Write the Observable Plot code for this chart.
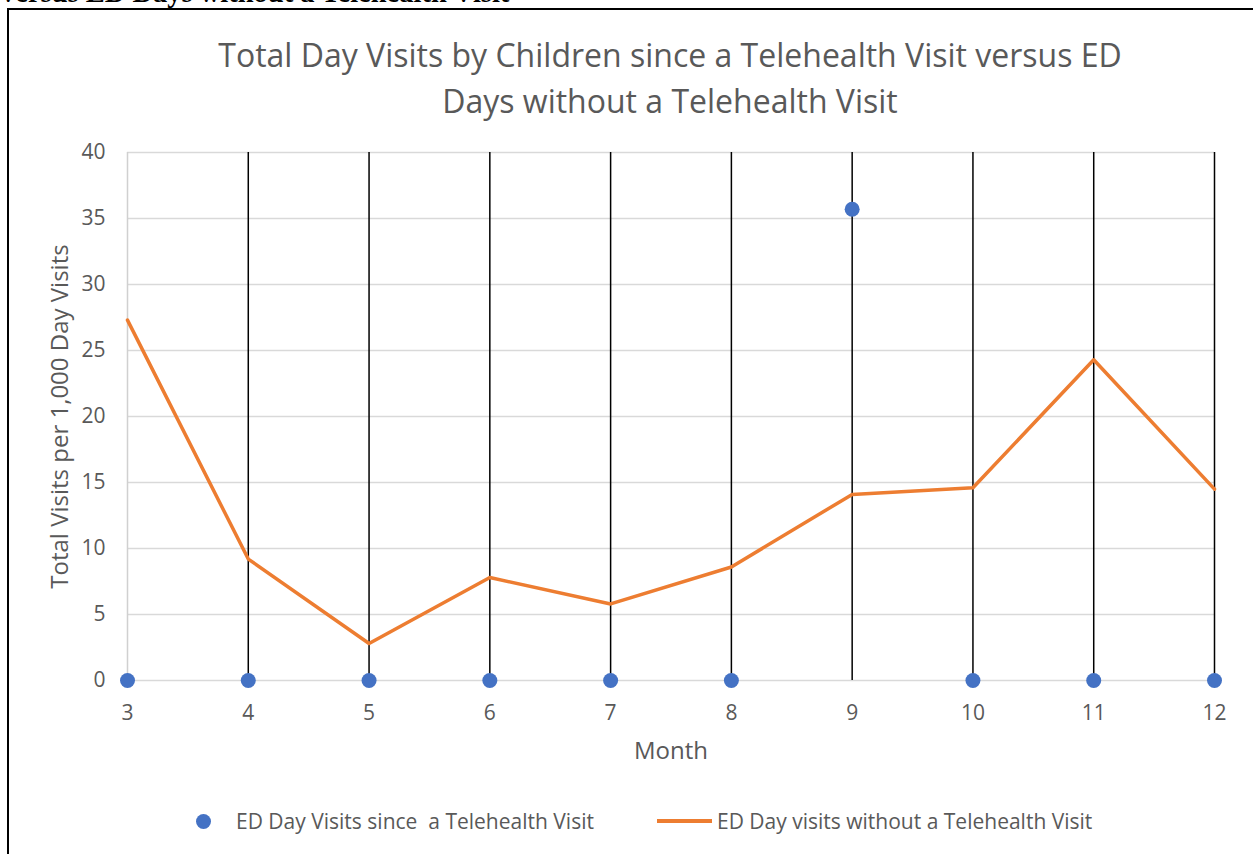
<!DOCTYPE html>
<html>
<head>
<meta charset="utf-8">
<script src="https://cdn.jsdelivr.net/npm/d3@7"></script>
<script src="https://cdn.jsdelivr.net/npm/@observablehq/plot@0.6"></script>
<style>
  html, body { margin: 0; padding: 0; background: #fff; }
  body { width: 1253px; height: 854px; position: relative; overflow: hidden; font-family: "Open Sans", sans-serif; }
  #heading { position: absolute; left: 1px; top: -22px; font-family: "Liberation Serif", "Times New Roman", serif; font-weight: bold; font-size: 28.5px; line-height: 30px; color: #000; white-space: nowrap; }
  #frame { position: absolute; left: 7px; top: 8px; width: 1260px; height: 860px; border: 2px solid #000; box-sizing: border-box; }
  #chart { position: absolute; left: 0; top: 0; }
  #chart svg text { font-family: "Open Sans", sans-serif; }
  #title { position: absolute; left: 0; width: 1340px; top: 32px; text-align: center; font-size: 32px; line-height: 46px; color: #595959; }
  #legend { position: absolute; top: 807px; left: 0; width: 1253px; font-size: 21px; color: #595959; }
  .item { position: absolute; top: 0; display: flex; align-items: center; height: 28px; white-space: pre; }
  .dot { width: 15px; height: 15px; border-radius: 50%; background: #4472C4; margin-right: 25px; }
  .dash { width: 55px; height: 3.5px; background: #ED7D31; margin-right: 5px; }
</style>
</head>
<body>
<div id="heading">versus ED Days without a Telehealth Visit</div>
<div id="frame"></div>
<div id="chart"></div>
<div id="title">Total Day Visits by Children since a Telehealth Visit versus ED<br>Days without a Telehealth Visit</div>
<div id="legend">
  <div class="item" style="left:196px"><span class="dot"></span>ED Day Visits since  a Telehealth Visit</div>
  <div class="item" style="left:657px"><span class="dash"></span>ED Day visits without a Telehealth Visit</div>
</div>
<script>
// Months on the horizontal axis
const months = [3, 4, 5, 6, 7, 8, 9, 10, 11, 12];
// ED day visits per 1,000 day visits since a telehealth visit
const sinceTelehealth = [0, 0, 0, 0, 0, 0, 35.7, 0, 0, 0];
// ED day visits per 1,000 day visits without a telehealth visit
const withoutTelehealth = [27.3, 9.2, 2.8, 7.8, 5.8, 8.6, 14.1, 14.6, 24.3, 14.5];
// Months carrying the full-height black range bars
const barMonths = [4, 5, 6, 7, 8, 9, 10, 11, 12];
// Value axis ticks
const yTicks = [0, 5, 10, 15, 20, 25, 30, 35, 40];

const yMin = yTicks[0], yMax = yTicks[yTicks.length - 1];

const rows = months.map((m, i) => ({month: m, since: sinceTelehealth[i], without: withoutTelehealth[i]}));

const chart = Plot.plot({
  width: 1253,
  height: 854,
  marginLeft: 127,
  marginRight: 39,
  marginTop: 152,
  marginBottom: 174,
  style: {fontFamily: "'Open Sans', sans-serif", fontSize: "21px", color: "#595959", background: "transparent", overflow: "visible"},
  x: {domain: [months[0], months[months.length - 1]]},
  y: {domain: [yMin, yMax]},
  marks: [
    Plot.ruleY(yTicks, {y: d => d, stroke: "#d9d9d9", strokeWidth: 1.5}),
    Plot.ruleX([months[0]], {x: d => d, y1: yMin, y2: yMax, stroke: "#d0d0d0", strokeWidth: 1.5}),
    Plot.ruleX(barMonths, {x: d => d, y1: yMin, y2: yMax, stroke: "#000", strokeWidth: 1.5}),
    Plot.line(rows, {x: "month", y: "without", stroke: "#ED7D31", strokeWidth: 3.5, strokeLinejoin: "round"}),
    Plot.dot(rows, {x: "month", y: "since", r: 7.5, fill: "#4472C4", stroke: "none"}),
    Plot.axisX({ticks: months, tickFormat: d => String(d), tickSize: 0, tickPadding: 25, fill: "#595959", fontSize: 21, label: null}),
    Plot.axisY({ticks: yTicks, tickSize: 0, tickPadding: 22, fill: "#595959", fontSize: 21, label: null}),
    // Axis titles, placed relative to the plot frame
    Plot.text(["Month"], {frameAnchor: "bottom", dy: 78, fill: "#595959", fontSize: 24}),
    Plot.text(["Total Visits per 1,000 Day Visits"], {frameAnchor: "left", dx: -67, rotate: -90, textAnchor: "middle", fill: "#595959", fontSize: 24})
  ]
});
document.getElementById("chart").appendChild(chart);
</script>
</body>
</html>
